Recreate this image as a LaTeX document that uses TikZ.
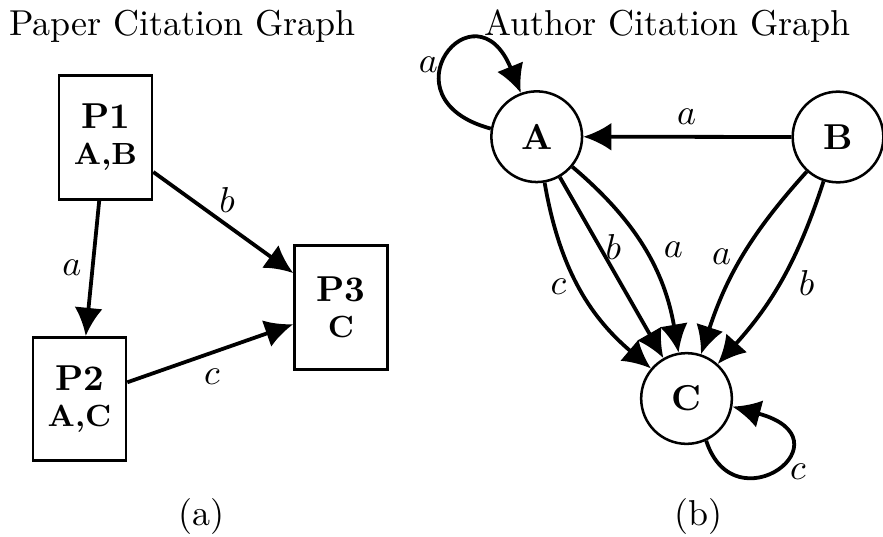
\documentclass[tikz,border=0pt]{standalone}
\usetikzlibrary{arrows.meta}
\begin{document}
\begin{tikzpicture}[x=0.00976cm,y=0.00976cm,
  paper/.style={draw, line width=0.75pt, minimum width=25.8pt, minimum height=34.3pt,
    inner sep=0pt, align=center, font=\fontsize{10}{10}\selectfont},
  author/.style={draw, circle, line width=0.7pt, minimum size=25.2pt, inner sep=0pt, font=\bfseries},
  link/.style={line width=1.05pt, -{Latex[length=7.8pt,width=7.8pt]}},
  lbl/.style={inner sep=0pt},
  title/.style={anchor=base, inner sep=0pt}]
\useasboundingbox (0,0) rectangle (883,-536);

% titles and captions
\node[title] (t1) at (182.5,-36) {Paper Citation Graph};
\node[title] (t2) at (667.5,-36) {Author Citation Graph};
\node[title] (ca) at (201.7,-525) {(a)};
\node[title] (cb) at (698.3,-525) {(b)};

% paper citation graph
\node[paper] (P1) at (105.5,-137.5) {\textbf{P1}\\{\fontsize{8.5}{10}\selectfont\bfseries A,B}};
\node[paper] (P2) at (79.5,-399) {\textbf{P2}\\{\fontsize{8.5}{10}\selectfont\bfseries A,C}};
\node[paper] (P3) at (341,-307.5) {\textbf{P3}\\{\fontsize{8.5}{10}\selectfont\bfseries C}};

\draw[link] (P1) -- (P2) node[lbl] at (72,-268) {$a$};
\draw[link] (P1) -- (P3) node[lbl] at (227,-200) {$b$};
\draw[link] (P2) -- (P3) node[lbl] at (212,-377) {$c$};

% author citation graph
\node[author] (A) at (536.7,-136.7) {A};
\node[author] (B) at (838,-137) {B};
\node[author] (C) at (686.5,-398.5) {C};

\draw[link] (A.170) .. controls +(165:115) and +(112:122) .. (A.110) node[lbl] at (428.3,-65) {$a$};
\draw[link] (B) -- (A) node[lbl] at (686.7,-116.7) {$a$};
\draw[link] (A) to[bend right=20] (C) node[lbl] at (558.3,-286.7) {$c$};
\draw[link] (A) -- (C) node[lbl] at (613.3,-246.7) {$b$};
\draw[link] (A) to[bend left=20] (C) node[lbl] at (673.3,-250) {$a$};
\draw[link] (B) to[bend right=12] (C) node[lbl] at (721.7,-256.7) {$a$};
\draw[link] (B) to[bend left=12] (C) node[lbl] at (806.7,-283.3) {$b$};
\draw[link] (C.-65) .. controls +(-72:92) and +(-15:125) .. (C.-10) node[lbl] at (798,-472) {$c$};
\end{tikzpicture}
\end{document}
